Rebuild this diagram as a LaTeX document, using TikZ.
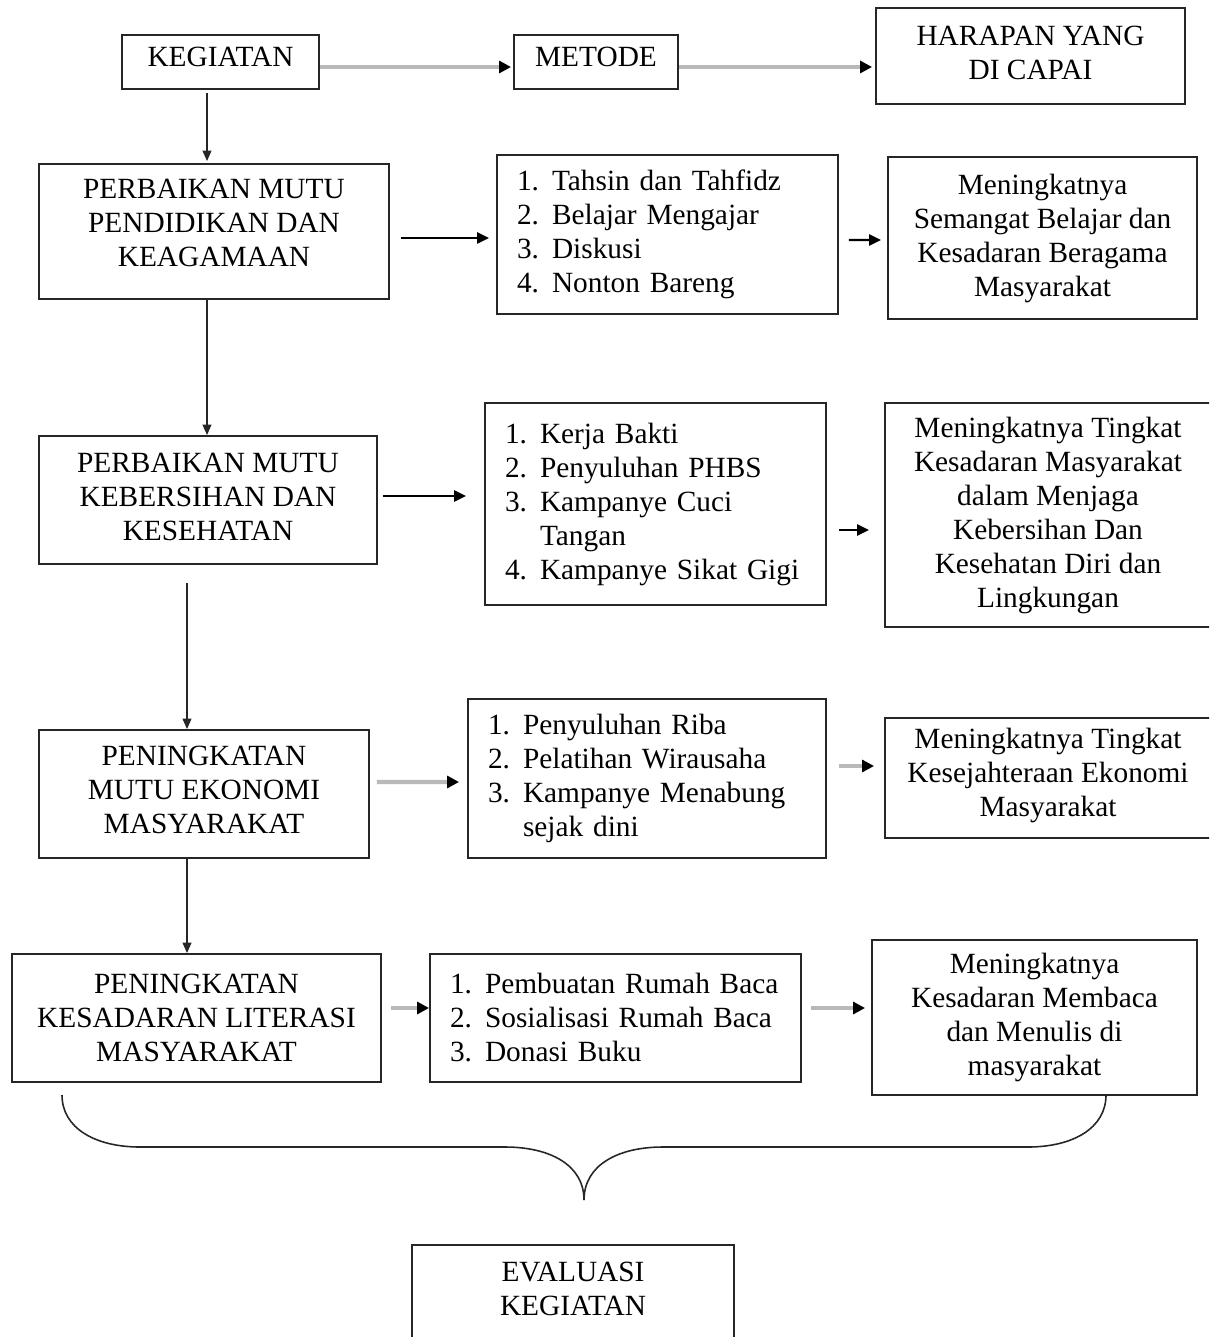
\documentclass[tikz,border=0pt]{standalone}
\usepackage{fontspec}
\setmainfont{Liberation Serif}
\usetikzlibrary{arrows.meta,calc}
\newcommand\fs{\fontsize{16.7}{19.35}\selectfont}
\newcommand\itm[2]{\makebox[0.7cm][l]{#1}#2}
\newcommand\ctab[2]{\begin{tabular}{@{}c@{}}#2\\[#1]\end{tabular}}
\begin{document}
\begin{tikzpicture}[x=0.02cm,y=-0.02cm,
  box/.style={draw=black!85, line width=1.1pt, inner sep=0pt, align=center, font=\fs},
  lst/.style={box, align=left, inner xsep=0.4cm, inner ysep=0pt},
  arr/.style={draw=black, line width=1.3pt, -{Triangle[length=0.24cm,width=0.22cm]}},
  garr/.style={draw=gray!55, line width=2.4pt, -{Triangle[length=0.24cm,width=0.24cm,color=black]}},
  thinarr/.style={draw=black!85, line width=0.7pt, -{Triangle[length=0.21cm,width=0.18cm]}},
  bracel/.style={draw=black!85, line width=0.9pt}]
\useasboundingbox (0,0) rectangle (1209,1337);
\clip (0,0) rectangle (1209,1337);

% header row
\node[box, minimum width=3.94cm, minimum height=1.08cm] (keg) at (220.5,62) {\ctab{0.1cm}{KEGIATAN}};
\node[box, minimum width=3.28cm, minimum height=1.08cm] (met) at (596,62) {\ctab{0.1cm}{METODE}};
\node[box, minimum width=6.18cm, minimum height=1.92cm] (har) at (1030.5,56) {\ctab{0pt}{HARAPAN YANG\\DI CAPAI}};

% row 1
\node[box, minimum width=7.0cm, minimum height=2.7cm] (k1) at (214,231.5) {\ctab{0.24cm}{PERBAIKAN MUTU\\PENDIDIKAN DAN\\KEAGAMAAN}};
\node[lst, text width=6.02cm, minimum height=3.18cm] (m1) at (667.5,234.5)
  {\itm{1.}{Tahsin dan Tahfidz}\\\itm{2.}{Belajar Mengajar}\\\itm{3.}{Diskusi}\\\itm{4.}{Nonton Bareng}};
\node[box, minimum width=6.18cm, minimum height=3.24cm] (r1) at (1042.5,238) {Meningkatnya\\Semangat Belajar dan\\Kesadaran Beragama\\Masyarakat};

% row 2
\node[box, minimum width=6.76cm, minimum height=2.56cm] (k2) at (208,500) {\ctab{0pt}{PERBAIKAN MUTU\\KEBERSIHAN DAN\\KESEHATAN}};
\node[lst, text width=6.02cm, minimum height=4.04cm] (m2) at (655.5,504)
  {\itm{1.}{Kerja Bakti}\\\itm{2.}{Penyuluhan PHBS}\\\itm{3.}{Kampanye Cuci}\\\hspace*{0.7cm}Tangan\\\itm{4.}{Kampanye Sikat Gigi}};
\node[box, minimum width=6.52cm, minimum height=4.48cm] (r2) at (1048,515) {Meningkatnya Tingkat\\Kesadaran Masyarakat\\dalam Menjaga\\Kebersihan Dan\\Kesehatan Diri dan\\Lingkungan};

% row 3
\node[box, minimum width=6.6cm, minimum height=2.56cm] (k3) at (204,794) {\ctab{0.04cm}{PENINGKATAN\\MUTU EKONOMI\\MASYARAKAT}};
\node[lst, text width=6.36cm, minimum height=3.18cm] (m3) at (647,778.5)
  {\itm{1.}{Penyuluhan Riba}\\\itm{2.}{Pelatihan Wirausaha}\\\itm{3.}{Kampanye Menabung}\\\hspace*{0.7cm}sejak dini};
\node[box, minimum width=6.52cm, minimum height=2.4cm] (r3) at (1048,778) {\ctab{0.08cm}{Meningkatnya Tingkat\\Kesejahteraan Ekonomi\\Masyarakat}};

% row 4
\node[box, minimum width=7.38cm, minimum height=2.56cm] (k4) at (196.5,1018) {PENINGKATAN\\KESADARAN LITERASI\\MASYARAKAT};
\node[lst, text width=6.62cm, minimum height=2.56cm] (m4) at (615.5,1018)
  {\itm{1.}{Pembuatan Rumah Baca}\\\itm{2.}{Sosialisasi Rumah Baca}\\\itm{3.}{Donasi Buku}};
\node[box, minimum width=6.5cm, minimum height=3.1cm] (r4) at (1034.5,1017.5) {Meningkatnya\\Kesadaran Membaca\\dan Menulis di\\masyarakat};

% evaluation
\node[box, draw=none, minimum width=6.4cm, minimum height=1.72cm] (ev) at (573,1289) {EVALUASI\\KEGIATAN};
\draw[draw=black!85, line width=1.1pt] ([yshift=-0.6cm]ev.south west) |- (ev.north east) -- ([yshift=-0.6cm]ev.south east);

% connectors
\draw[garr] ($(keg.east)+(0,5)$) -- ($(met.west)+(-2,5)$);
\draw[garr] ($(met.east)+(0,5)$) -- ($(har.west)+(-3,11)$);
\draw[thinarr] ($(keg.south)+(-13.5,3)$) -- ($(k1.north)+(-7,-2)$);

\draw[arr] ($(k1.east)+(11,6.5)$) -- ($(m1.west)+(-7,3.5)$);
\draw[arr] ($(m1.east)+(10,5.5)$) -- ($(r1.west)+(-6,2)$);
\draw[thinarr] ($(k1.south)+(-7,0)$) -- ($(k2.north)+(-1,0)$);

\draw[arr] ($(k2.east)+(5,-4)$) -- ($(m2.west)+(-18,-8)$);
\draw[arr] ($(m2.east)+(12,26)$) -- ($(r2.west)+(-15,15)$);
\draw[thinarr] ($(k2.south)+(-21,18)$) -- ($(k3.north)+(-17,0)$);

\draw[garr] ($(k3.east)+(7,-12)$) -- ($(m3.west)+(-8,3.5)$);
\draw[garr] ($(m3.east)+(12,-12.5)$) -- ($(r3.west)+(-10,-12)$);
\draw[thinarr] ($(k3.south)+(-17,0)$) -- ($(k4.north)+(-9.5,0)$);

\draw[garr] ($(k4.east)+(9,-10)$) -- ($(m4.west)+(0,-10)$);
\draw[garr] ($(m4.east)+(9,-10)$) -- ($(r4.west)+(-6,-9.5)$);

% brace
\draw[bracel] (62,1095) .. controls (62,1128) and (95,1147) .. (140,1147) -- (505,1147) .. controls (550,1147) and (584,1165) .. (584,1200);
\draw[bracel] (1106,1095) .. controls (1106,1128) and (1073,1147) .. (1028,1147) -- (663,1147) .. controls (618,1147) and (584,1165) .. (584,1200);
\end{tikzpicture}
\end{document}
